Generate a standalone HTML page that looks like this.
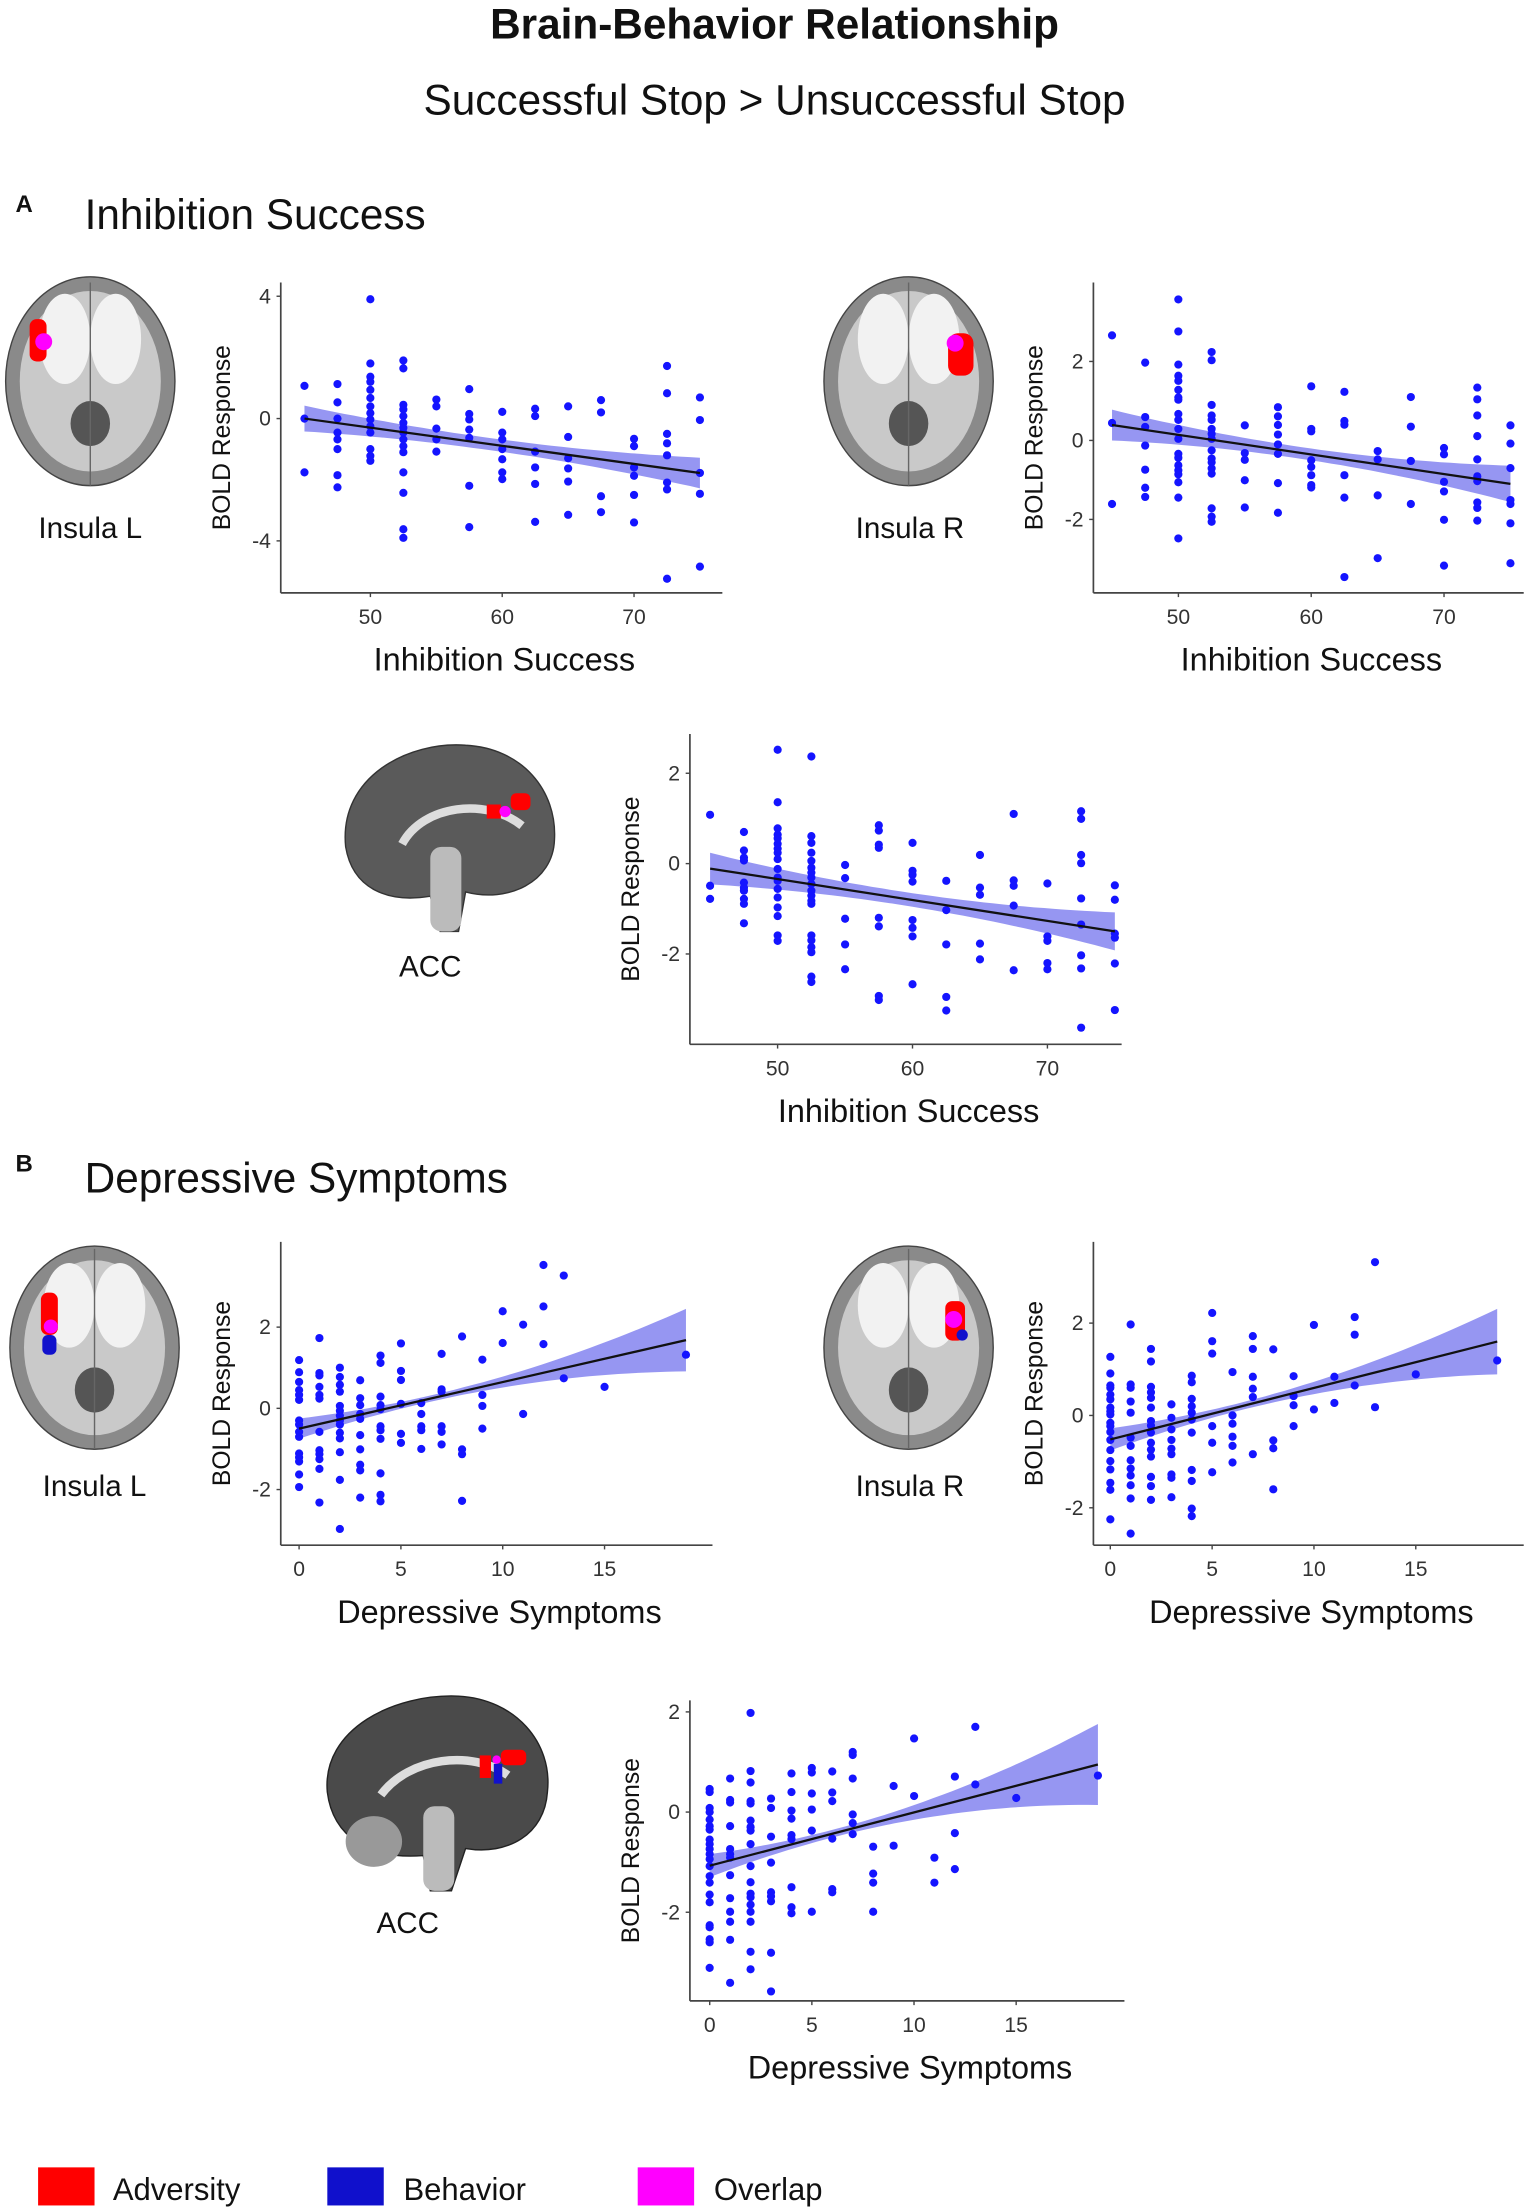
<!DOCTYPE html>
<html><head><meta charset="utf-8"><title>Brain-Behavior Relationship</title>
<style>
html,body{margin:0;padding:0;background:#fff;}
svg{display:block;font-family:"Liberation Sans",Arial,sans-serif;}
</style></head>
<body>
<svg id="fig" width="1535" height="2210" viewBox="0 0 1088 1566" xmlns="http://www.w3.org/2000/svg">
<rect width="1088" height="1566" fill="#fff"/>
<text x="549" y="27" font-size="30" font-weight="bold" text-anchor="middle" fill="#111">Brain-Behavior Relationship</text>
<text x="549" y="81" font-size="30" text-anchor="middle" fill="#111">Successful Stop &gt; Unsuccessful Stop</text>
<text x="11" y="150" font-size="17" font-weight="bold" fill="#111">A</text>
<text x="60" y="162" font-size="30" fill="#111">Inhibition Success</text>
<text x="11" y="830" font-size="17" font-weight="bold" fill="#111">B</text>
<text x="60" y="845" font-size="30" fill="#111">Depressive Symptoms</text>

<!-- brains -->
<g>
<ellipse cx="64" cy="270" rx="60" ry="74" fill="#8a8a8a" stroke="#444"/>
<ellipse cx="64" cy="270" rx="50" ry="64" fill="#c9c9c9"/>
<ellipse cx="46" cy="240" rx="18" ry="32" fill="#f2f2f2"/><ellipse cx="82" cy="240" rx="18" ry="32" fill="#f2f2f2"/>
<ellipse cx="64" cy="300" rx="14" ry="16" fill="#555"/><line x1="64" y1="200" x2="64" y2="344" stroke="#666"/>
<rect x="21" y="226" width="12" height="30" rx="5" fill="#f00"/><circle cx="31" cy="242" r="6" fill="#f0f"/>
</g>
<text x="64" y="381" font-size="21" text-anchor="middle" fill="#111">Insula L</text>
<g>
<ellipse cx="644" cy="270" rx="60" ry="74" fill="#8a8a8a" stroke="#444"/>
<ellipse cx="644" cy="270" rx="50" ry="64" fill="#c9c9c9"/>
<ellipse cx="626" cy="240" rx="18" ry="32" fill="#f2f2f2"/><ellipse cx="662" cy="240" rx="18" ry="32" fill="#f2f2f2"/>
<ellipse cx="644" cy="300" rx="14" ry="16" fill="#555"/><line x1="644" y1="200" x2="644" y2="344" stroke="#666"/>
<rect x="672" y="236" width="18" height="30" rx="7" fill="#f00"/><circle cx="677" cy="243" r="6" fill="#f0f"/>
</g>
<text x="645" y="381" font-size="21" text-anchor="middle" fill="#111">Insula R</text>
<g>
<path d="M245 600 C240 550 290 525 330 528 C370 530 395 560 393 595 C392 625 360 640 330 632 L325 660 L312 660 L305 635 C275 640 250 630 245 600Z" fill="#5a5a5a" stroke="#333"/>
<path d="M285 598 C300 570 345 565 370 585" stroke="#ddd" stroke-width="6" fill="none"/>
<rect x="305" y="600" width="22" height="60" rx="8" fill="#bbb"/>
<rect x="362" y="562" width="14" height="12" rx="4" fill="#f00"/><rect x="345" y="570" width="10" height="10" fill="#f00"/><circle cx="358" cy="575" r="4" fill="#f0f"/>
</g>
<text x="305" y="692" font-size="21" text-anchor="middle" fill="#111">ACC</text>
<g>
<ellipse cx="67" cy="955" rx="60" ry="72" fill="#8a8a8a" stroke="#444"/>
<ellipse cx="67" cy="955" rx="50" ry="62" fill="#c9c9c9"/>
<ellipse cx="49" cy="925" rx="18" ry="30" fill="#f2f2f2"/><ellipse cx="85" cy="925" rx="18" ry="30" fill="#f2f2f2"/>
<ellipse cx="67" cy="985" rx="14" ry="16" fill="#555"/><line x1="67" y1="885" x2="67" y2="1027" stroke="#666"/>
<rect x="29" y="916" width="12" height="30" rx="5" fill="#f00"/><circle cx="36" cy="940" r="5" fill="#f0f"/><rect x="30" y="946" width="10" height="14" rx="4" fill="#11c"/>
</g>
<text x="67" y="1060" font-size="21" text-anchor="middle" fill="#111">Insula L</text>
<g>
<ellipse cx="644" cy="955" rx="60" ry="72" fill="#8a8a8a" stroke="#444"/>
<ellipse cx="644" cy="955" rx="50" ry="62" fill="#c9c9c9"/>
<ellipse cx="626" cy="925" rx="18" ry="30" fill="#f2f2f2"/><ellipse cx="662" cy="925" rx="18" ry="30" fill="#f2f2f2"/>
<ellipse cx="644" cy="985" rx="14" ry="16" fill="#555"/><line x1="644" y1="885" x2="644" y2="1027" stroke="#666"/>
<rect x="670" y="922" width="14" height="28" rx="5" fill="#f00"/><circle cx="676" cy="935" r="6" fill="#f0f"/><circle cx="682" cy="946" r="4" fill="#11c"/>
</g>
<text x="645" y="1060" font-size="21" text-anchor="middle" fill="#111">Insula R</text>
<g>
<path d="M232 1270 C228 1225 280 1200 325 1202 C365 1204 392 1235 388 1270 C386 1300 360 1315 330 1310 L320 1340 L305 1340 L300 1315 C262 1318 236 1302 232 1270Z" fill="#4a4a4a" stroke="#222"/>
<path d="M270 1272 C290 1245 335 1240 360 1258" stroke="#ddd" stroke-width="6" fill="none"/>
<ellipse cx="265" cy="1305" rx="20" ry="18" fill="#999"/>
<rect x="300" y="1280" width="22" height="60" rx="8" fill="#bbb"/>
<rect x="355" y="1240" width="18" height="11" rx="4" fill="#f00"/><rect x="340" y="1244" width="8" height="16" fill="#f00"/><rect x="350" y="1250" width="6" height="14" fill="#11c"/><circle cx="352" cy="1247" r="3" fill="#f0f"/>
</g>
<text x="289" y="1370" font-size="21" text-anchor="middle" fill="#111">ACC</text>

<!-- legend -->
<rect x="27" y="1536" width="40" height="27" fill="#f00"/>
<text x="80" y="1559" font-size="22" fill="#111">Adversity</text>
<rect x="232" y="1536" width="40" height="27" fill="#1010cc"/>
<text x="286" y="1559" font-size="22" fill="#111">Behavior</text>
<rect x="452" y="1536" width="40" height="27" fill="#f0f"/>
<text x="506" y="1559" font-size="22" fill="#111">Overlap</text>
<g id="plots"></g>
</svg>
<script>
// ---------- data ----------
const inhibX = [45,47.5,50,52.5,55,57.5,60,62.5,65,67.5,70,72.5,75];
const a1Y = [[1.07,0,-1.76],[1.13,0.53,0,-0.46,-0.68,-1.0,-1.85,-2.25],[3.9,1.8,1.37,1.2,0.94,0.67,0.4,0.18,-0.03,-0.25,-0.46,-1.0,-1.22,-1.38],[1.9,1.64,0.45,0.3,0.08,-0.14,-0.3,-0.46,-0.68,-0.9,-1.1,-1.76,-2.43,-3.62,-3.9],[0.62,0.4,-0.33,-0.68,-1.08],[0.96,0.15,-0.03,-0.36,-0.63,-2.2,-3.55],[0.22,-0.46,-0.68,-1.0,-1.33,-1.76,-1.98],[0.32,0.08,-1.08,-1.6,-2.14,-3.38],[0.4,-0.6,-1.3,-1.63,-2.06,-3.15],[0.6,0.2,-2.54,-3.06],[-0.66,-0.9,-1.6,-1.87,-2.5,-3.4],[1.72,0.83,-0.5,-0.81,-1.2,-2.09,-2.32,-5.24],[0.69,-0.05,-1.78,-2.46,-4.84]];
const a1Fit = [0,-1.78];
const a1Band = [0.42,0.2,0.5];
const a2Y = [[2.66,0.44,-1.61],[1.97,0.59,0.34,-0.13,-0.74,-1.2,-1.43],[3.57,2.76,1.92,1.64,1.51,1.28,1.09,1.03,0.67,0.52,0.29,0.04,-0.34,-0.44,-0.63,-0.76,-0.86,-1.06,-1.45,-2.48],[2.24,2.03,0.9,0.63,0.52,0.29,0.17,0.04,-0.25,-0.46,-0.55,-0.71,-0.84,-1.72,-1.93,-2.06],[0.38,-0.32,-0.49,-1.01,-1.7],[0.84,0.61,0.39,0.15,-0.1,-0.34,-1.08,-1.83],[1.37,0.29,0.23,-0.5,-0.67,-0.88,-1.13,-1.19],[1.23,0.49,0.4,-0.88,-1.45,-3.46],[-0.27,-0.48,-1.39,-2.98],[1.1,0.35,-0.52,-1.61],[-0.19,-0.35,-1.05,-1.29,-2.01,-3.17],[1.34,1.04,0.63,0.11,-0.48,-0.91,-1.03,-1.57,-1.71,-2.03],[0.38,-0.08,-0.7,-1.51,-1.61,-2.1,-3.11]];
const a2Fit = [0.39,-1.1];
const a2Band = [0.39,0.15,0.46];
const a3Y = [[1.08,-0.49,-0.78],[0.7,0.29,0.13,0.07,-0.42,-0.53,-0.6,-0.78,-0.89,-1.32],[2.52,1.36,0.78,0.64,0.56,0.44,0.33,0.24,0.1,-0.12,-0.31,-0.38,-0.56,-0.75,-0.97,-1.16,-1.59,-1.71],[2.37,0.61,0.46,0.24,0.06,-0.09,-0.2,-0.31,-0.45,-0.6,-0.71,-0.82,-0.89,-1.59,-1.7,-1.85,-1.96,-2.5,-2.62],[-0.03,-0.32,-1.22,-1.79,-2.34],[0.85,0.73,0.42,0.35,-1.2,-1.39,-2.93,-3.02],[0.46,-0.16,-0.25,-0.4,-1.25,-1.42,-1.61,-2.67],[-0.38,-1.03,-1.79,-2.95,-3.25],[0.19,-0.53,-0.69,-1.77,-2.12],[1.1,-0.37,-0.49,-0.93,-2.36],[-0.44,-1.61,-1.71,-2.2,-2.34],[1.16,0.99,0.19,0.01,-0.77,-1.35,-2.03,-2.32,-3.63],[-0.48,-0.8,-1.55,-1.64,-2.21,-3.24]];
const a3Fit = [-0.11,-1.5];
const a3Band = [0.35,0.15,0.42];
const depX = [0,1,2,3,4,5,6,7,8,9,10,11,12,13,15,19];
const b1Y = [[1.19,0.89,0.65,0.45,0.33,0.21,-0.3,-0.4,-0.58,-0.7,-1.11,-1.21,-1.31,-1.63,-1.94],[1.73,0.87,0.81,0.53,0.33,0.24,-0.58,-1.03,-1.13,-1.25,-1.49,-2.32],[1.0,0.77,0.58,0.41,0.06,-0.06,-0.18,-0.3,-0.4,-0.6,-0.74,-1.08,-1.76,-2.97],[0.69,0.25,0.08,-0.14,-0.26,-0.66,-1.01,-1.39,-1.53,-2.2],[1.3,1.12,0.29,0.08,-0.02,-0.44,-0.54,-0.75,-1.6,-2.13,-2.29],[1.6,0.92,0.7,0.11,-0.63,-0.85],[0.13,-0.14,-0.44,-0.54,-1.0],[1.34,0.47,0.41,-0.44,-0.58,-0.89],[1.77,-1.01,-1.13,-2.28],[1.2,0.33,0.06,-0.5],[2.39,1.61],[2.06,-0.14],[3.53,2.51,1.58],[3.27,0.74],[0.53],[1.32]];
const b1Fit = [-0.5,1.68];
const b1Band = [0.25,0.12,0.77];
const b2Y = [[1.27,0.91,0.65,0.6,0.45,0.35,0.17,0.09,0.02,-0.16,-0.23,-0.36,-0.53,-0.75,-0.99,-1.17,-1.46,-1.61,-2.25],[1.97,0.67,0.6,0.3,0.06,-0.48,-0.66,-0.97,-1.15,-1.3,-1.51,-1.8,-2.56],[1.44,1.17,0.62,0.5,0.38,0.17,-0.12,-0.22,-0.37,-0.59,-0.74,-0.89,-1.33,-1.53,-1.83],[0.24,-0.05,-0.3,-0.53,-0.72,-0.84,-1.28,-1.35,-1.77],[0.86,0.72,0.36,0.2,0.06,-0.09,-0.37,-1.18,-1.42,-2.02,-2.18],[2.22,1.61,1.34,-0.23,-0.59,-1.23],[0.94,0,-0.18,-0.46,-0.66,-1.02],[1.72,1.44,0.84,0.58,0.4,-0.84],[1.43,-0.54,-0.71,-1.6],[0.85,0.42,0.22,-0.23],[1.96,0.13],[0.84,0.27],[2.13,1.75,0.65],[3.32,0.18],[0.89],[1.19]];
const b2Fit = [-0.52,1.6];
const b2Band = [0.24,0.12,0.71];
const b3Y = [[0.46,0.4,0.08,0,-0.15,-0.28,-0.35,-0.55,-0.64,-0.74,-0.84,-0.94,-1.08,-1.28,-1.41,-1.65,-1.8,-2.26,-2.3,-2.54,-2.6,-3.11],[0.67,0.24,0.19,-0.28,-0.74,-0.84,-0.91,-1.26,-1.72,-1.99,-2.19,-2.55,-3.41],[1.98,0.82,0.59,0.22,0.17,-0.17,-0.3,-0.37,-0.64,-1.08,-1.4,-1.63,-1.7,-1.85,-1.99,-2.19,-2.79,-3.14],[0.27,0.08,-0.49,-1.01,-1.6,-1.68,-1.78,-2.81,-3.58],[0.77,0.4,0.03,-0.13,-0.46,-0.54,-1.5,-1.9,-2.02],[0.88,0.79,0.37,0.05,-0.37,-1.99],[0.81,0.39,0.22,-0.53,-1.54,-1.6],[1.2,1.14,0.67,-0.05,-0.22,-0.44],[-0.69,-1.23,-1.41,-1.99],[0.52,-0.67],[1.47,0.32],[-0.91,-1.41],[0.71,-0.42,-1.14],[1.7,0.55],[0.28],[0.73]];
const b3Fit = [-1.07,0.95];
const b3Band = [0.23,0.13,0.81];
const inhibTicks = [50,60,70];
const depTicks = [0,5,10,15];

// ---------- drawing ----------
const NS = "http://www.w3.org/2000/svg";
const root = document.getElementById('plots');
function mk(tag, attrs, parent){const e=document.createElementNS(NS,tag);for(const k in attrs)e.setAttribute(k,attrs[k]);(parent||root).appendChild(e);return e;}

function drawPlot(id, box, xd, yd, xs, ys, fit, band, xTicks, yTicks, xTitle, fitRange){
  const g = mk('g',{});
  
  
  const sx = v => box.l + (v - xd[0]) / (xd[1] - xd[0]) * (box.r - box.l);
  const sy = v => box.b - (v - yd[0]) / (yd[1] - yd[0]) * (box.b - box.t);
  const x0 = fitRange[0], x1 = fitRange[1];
  const fy = x => fit[0] + (fit[1] - fit[0]) * (x - x0) / (x1 - x0);
  const hw = x => {const t=(x-x0)/(x1-x0);return band[0]*(1-t)*(1-2*t)+band[1]*4*t*(1-t)+band[2]*t*(2*t-1);};
  let up=[], lo=[];
  for(let i=0;i<=40;i++){const x=x0+(x1-x0)*i/40;up.push(sx(x).toFixed(1)+','+sy(fy(x)+hw(x)).toFixed(1));lo.push(sx(x).toFixed(1)+','+sy(fy(x)-hw(x)).toFixed(1));}
  const bandEl = mk('polygon',{points:up.concat(lo.reverse()).join(' '),fill:'#8484f0','fill-opacity':'0.85'},g);
  
  
  xs.forEach((x,i)=>{ys[i].forEach(y=>{
    const c = mk('circle',{cx:sx(x).toFixed(1),cy:sy(y).toFixed(1),r:2.9,fill:'#1414ff'},g);
    
    
  });});
  const ln = mk('line',{x1:sx(x0),y1:sy(fit[0]),x2:sx(x1),y2:sy(fit[1]),stroke:'#111','stroke-width':1.6},g);
  
  
  const ya = mk('line',{x1:box.l,y1:box.t,x2:box.l,y2:box.b,stroke:'#444','stroke-width':1.2},g);
  
  
  const xa = mk('line',{x1:box.l,y1:box.b,x2:box.r,y2:box.b,stroke:'#444','stroke-width':1.2},g);
  
  
  xTicks.forEach(t=>{
    mk('line',{x1:sx(t),y1:box.b,x2:sx(t),y2:box.b+3,stroke:'#444'},g);
    const tx = mk('text',{x:sx(t),y:box.b+22,'font-size':15,'text-anchor':'middle',fill:'#333'},g);
    tx.textContent = t;
    
    
  });
  yTicks.forEach(t=>{
    mk('line',{x1:box.l-3,y1:sy(t),x2:box.l,y2:sy(t),stroke:'#444'},g);
    const tx = mk('text',{x:box.l-7,y:sy(t)+5,'font-size':15,'text-anchor':'end',fill:'#333'},g);
    tx.textContent = t;
    
    
  });
  const xt = mk('text',{x:(box.l+box.r)/2+2,y:box.b+55,'font-size':23,'text-anchor':'middle',fill:'#111'},g);
  xt.textContent = xTitle;
  
  
  const cy = (box.t+box.b)/2;
  const yt = mk('text',{x:box.l-36,y:cy,'font-size':17.5,'text-anchor':'middle',fill:'#111',transform:`rotate(-90 ${box.l-36} ${cy})`},g);
  yt.textContent = 'BOLD Response';
  
  
}

drawPlot('plot-a-insula-l',{l:199,r:512,t:200,b:420},[43.2,76.7],[-5.7,4.45],inhibX,a1Y,a1Fit,a1Band,inhibTicks,[4,0,-4],'Inhibition Success',[45,75]);
drawPlot('plot-a-insula-r',{l:775,r:1080,t:200,b:420},[43.6,76.0],[-3.86,4.0],inhibX,a2Y,a2Fit,a2Band,inhibTicks,[2,0,-2],'Inhibition Success',[45,75]);
drawPlot('plot-a-acc',{l:489,r:795,t:520,b:740},[43.5,75.5],[-4.0,2.87],inhibX,a3Y,a3Fit,a3Band,inhibTicks,[2,0,-2],'Inhibition Success',[45,75]);
drawPlot('plot-b-insula-l',{l:199,r:505,t:880,b:1095},[-0.9,20.3],[-3.37,4.1],depX,b1Y,b1Fit,b1Band,depTicks,[2,0,-2],'Depressive Symptoms',[0,19]);
drawPlot('plot-b-insula-r',{l:775,r:1080,t:880,b:1095},[-0.83,20.3],[-2.81,3.76],depX,b2Y,b2Fit,b2Band,depTicks,[2,0,-2],'Depressive Symptoms',[0,19]);
drawPlot('plot-b-acc',{l:489,r:797,t:1205,b:1418},[-0.97,20.3],[-3.77,2.23],depX,b3Y,b3Fit,b3Band,depTicks,[2,0,-2],'Depressive Symptoms',[0,19]);
</script>
</body></html>
